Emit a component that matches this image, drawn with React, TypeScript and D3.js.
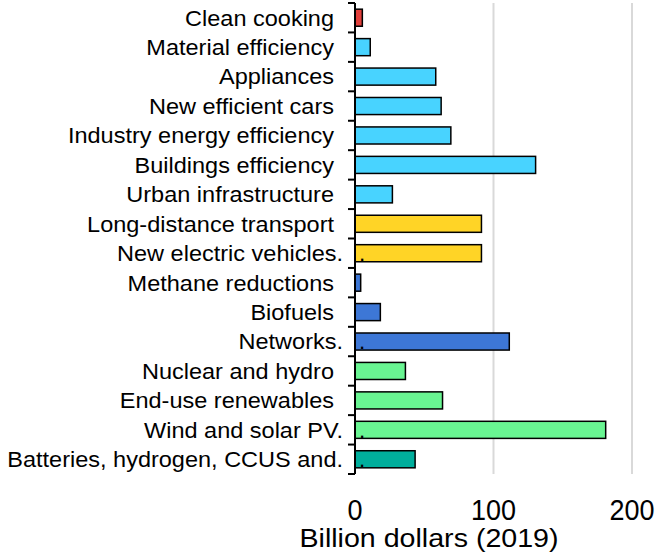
import React from "react";
import * as d3 from "d3";

const categories = [
  "Clean cooking",
  "Material efficiency",
  "Appliances",
  "New efficient cars",
  "Industry energy efficiency",
  "Buildings efficiency",
  "Urban infrastructure",
  "Long-distance transport",
  "New electric vehicles",
  "Methane reductions",
  "Biofuels",
  "Networks",
  "Nuclear and hydro",
  "End-use renewables",
  "Wind and solar PV",
  "Batteries, hydrogen, CCUS and",
];
const values = [5.3, 11, 58.3, 62.2, 69.2, 130.4, 27, 91.3, 91.3, 4.1, 18.3, 111.4, 36.4, 63.2, 181, 43.4];
const groups = ["red", "cyan", "cyan", "cyan", "cyan", "cyan", "cyan", "yellow", "yellow", "blue", "blue", "blue", "green", "green", "green", "teal"];
const truncated = [false, false, false, false, false, false, false, false, true, false, false, true, false, false, true, true];
const xTicks = [0, 100, 200];
const xTitle = "Billion dollars (2019)";

const colorMap: Record<string, string> = {
  red: "#e2403c",
  cyan: "#48d3ff",
  yellow: "#ffd426",
  blue: "#3d77d6",
  green: "#69f592",
  teal: "#00ae9c",
};

const W = 661;
const H = 556;
const FONT = "'Liberation Sans', Arial, Helvetica, sans-serif";

export default function App() {
  const x = d3.scaleLinear().domain([0, 200]).range([355, 632]);
  const y = d3.scaleBand<string>().domain(categories).range([3, 474]).paddingInner(0.42).paddingOuter(0.21);
  const bandStep = y.step();
  const boundaries = d3.range(categories.length + 1).map((i) => 3 + i * bandStep);
  const y0 = 3;
  const y1 = 474;

  return (
    <svg width={W} height={H} style={{ position: "absolute", left: 0, top: 0 }}>
      <rect x={0} y={0} width={W} height={H} fill="#fff" />
      {xTicks.filter((t) => t !== 0).map((t) => (
        <line key={t} x1={x(t)} x2={x(t)} y1={y0} y2={y1} stroke="#d9d9d9" strokeWidth={2} />
      ))}
      {categories.map((c, i) => (
        <rect
          key={c}
          x={x(0)}
          y={y(c)!}
          width={x(values[i]) - x(0)}
          height={y.bandwidth()}
          fill={colorMap[groups[i]]}
          stroke="#000"
          strokeWidth={1.5}
        />
      ))}
      <line x1={x(0)} x2={x(0)} y1={y0} y2={y1} stroke="#000" strokeWidth={2} />
      {boundaries.map((b, i) => (
        <line key={i} x1={x(0) - 7} x2={x(0)} y1={b} y2={b} stroke="#000" strokeWidth={2} />
      ))}
      {categories.map((c, i) => {
        const cy = y(c)! + y.bandwidth() / 2;
        const lx = truncated[i] ? x(0) - 12 : x(0) - 21;
        return (
          <g key={c} fontFamily={FONT} fontSize={22.5} fill="#000">
            <text transform={`translate(${lx},${cy}) scale(1.045,1)`} dy="0.35em" textAnchor="end">
              {truncated[i] ? c + "." : c}
            </text>
            {truncated[i] && (
              <text x={x(0) + 4} y={cy} dy="0.35em" textAnchor="start">.</text>
            )}
          </g>
        );
      })}
      {xTicks.map((t) => (
        <text
          key={t}
          transform={`translate(${x(t)},520) scale(1,1.12)`}
          textAnchor="middle"
          fontFamily={FONT}
          fontSize={27}
          fill="#000"
        >
          {t}
        </text>
      ))}
      <text
        transform={`translate(429,547) scale(1.1,1)`}
        textAnchor="middle"
        fontFamily={FONT}
        fontSize={26}
        fill="#000"
      >
        {xTitle}
      </text>
    </svg>
  );
}
